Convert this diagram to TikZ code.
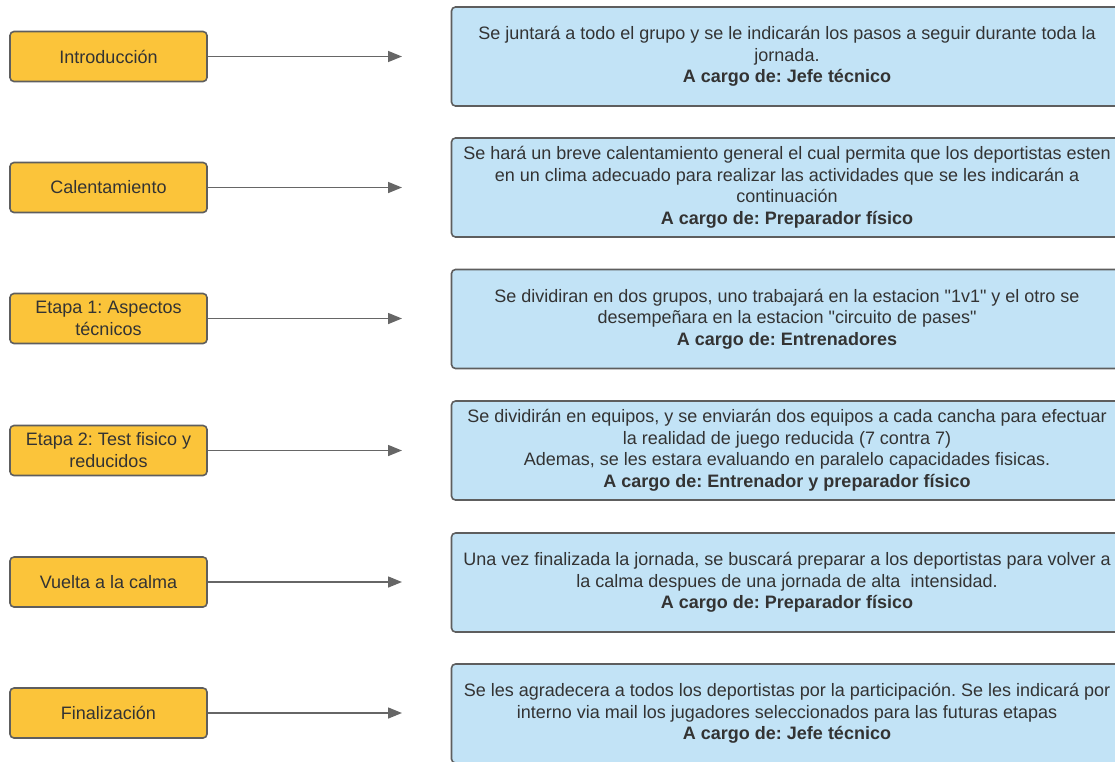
\documentclass[tikz,border=0pt]{standalone}
\usepackage{fontspec}
\setmainfont{Liberation Sans}
\usetikzlibrary{arrows.meta}
\frenchspacing
\definecolor{stepfill}{HTML}{FBC43A}
\definecolor{descfill}{HTML}{C2E3F6}
\definecolor{edgegray}{HTML}{5E5E5E}
\definecolor{linkgray}{HTML}{666666}
\definecolor{txt}{HTML}{333333}
\tikzset{
  stepbox/.style={draw=edgegray, fill=stepfill, line width=1.6pt, rounded corners=4pt,
    minimum width=197pt, minimum height=50pt, inner sep=0pt, align=center, text=txt,
    font=\fontsize{18}{22}\selectfont},
  descbox/.style={draw=edgegray, fill=descfill, line width=1.6pt, rounded corners=4pt,
    minimum width=671pt, minimum height=99pt, inner sep=0pt, align=center, text=txt,
    font=\fontsize{18}{21.5}\selectfont},
  link/.style={draw=linkgray, line width=1.5pt, -{Triangle[length=14pt,width=11pt]}}
}
\begin{document}
\begin{tikzpicture}[x=1pt,y=-1pt]
\useasboundingbox (0,0) rectangle (1115,761);
\clip (0,0) rectangle (1115,761);
% left step boxes
\node[stepbox] (s1) at (108.5,56.5) {Introducción};
\node[stepbox] (s2) at (108.5,187.5) {Calentamiento};
\node[stepbox] (s3) at (108.5,318.5) {Etapa 1: Aspectos\\técnicos};
\node[stepbox] (s4) at (108.5,450.5) {Etapa 2: Test fisico y\\reducidos};
\node[stepbox] (s5) at (108.5,582) {Vuelta a la calma};
\node[stepbox] (s6) at (108.5,713) {Finalización};
% arrow end points
\coordinate (e1) at (402,56.5);
\coordinate (e2) at (402,187.5);
\coordinate (e3) at (402,318.5);
\coordinate (e4) at (402,450.5);
\coordinate (e5) at (402,582);
\coordinate (e6) at (402,713);
% right description boxes
\node[descbox] (d1) at (787,56.5) {Se juntará a todo el grupo y se le indicarán los pasos a seguir durante toda la\\jornada.\\\textbf{A cargo de: Jefe técnico}};
\node[descbox] (d2) at (787,187.5) {Se hará un breve calentamiento general el cual permita que los deportistas esten\\en un clima adecuado para realizar las actividades que se les indicarán a\\continuación\\\textbf{A cargo de: Preparador físico}};
\node[descbox] (d3) at (787,319) {Se dividiran en dos grupos, uno trabajará en la estacion \textquotedbl 1v1\textquotedbl\ y el otro se\\desempeñara en la estacion \textquotedbl circuito de pases\textquotedbl\\\textbf{A cargo de: Entrenadores}};
\node[descbox] (d4) at (787,450.5) {Se dividirán en equipos, y se enviarán dos equipos a cada cancha para efectuar\\la realidad de juego reducida (7 contra 7)\\Ademas, se les estara evaluando en paralelo capacidades fisicas.\\\textbf{A cargo de: Entrenador y preparador físico}};
\node[descbox] (d5) at (787,582.5) {Una vez finalizada la jornada, se buscará preparar a los deportistas para volver a\\la calma despues de una jornada de alta~ intensidad.\\\textbf{A cargo de: Preparador físico}};
\node[descbox] (d6) at (787,713.5) {Se les agradecera a todos los deportistas por la participación. Se les indicará por\\interno via mail los jugadores seleccionados para las futuras etapas\\\textbf{A cargo de: Jefe técnico}};
% connectors
\draw[link] (s1) -- (e1);
\draw[link] (s2) -- (e2);
\draw[link] (s3) -- (e3);
\draw[link] (s4) -- (e4);
\draw[link] (s5) -- (e5);
\draw[link] (s6) -- (e6);
\end{tikzpicture}
\end{document}
